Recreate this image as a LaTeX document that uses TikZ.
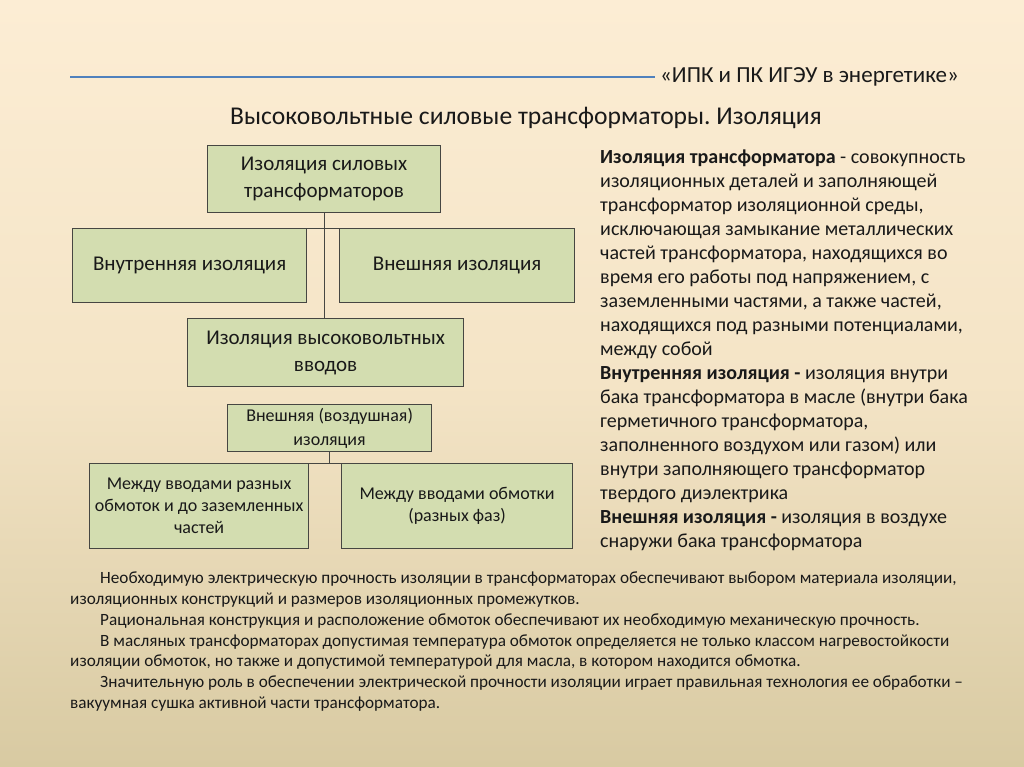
\documentclass[tikz,border=0pt]{standalone}
\usepackage{fontspec}
\setmainfont{Carlito}
\frenchspacing
\definecolor{bgtop}{RGB}{252,237,212}
\definecolor{bgmid}{RGB}{244,228,198}
\definecolor{bgbot}{RGB}{216,202,162}
\definecolor{boxfill}{RGB}{211,221,176}
\definecolor{boxline}{RGB}{70,70,66}
\definecolor{headblue}{RGB}{79,129,189}
\definecolor{txt}{RGB}{25,25,25}
\begin{document}
\begin{tikzpicture}[x=1pt,y=-1pt,
  box/.style={draw=boxline, line width=1.2pt, fill=boxfill, inner sep=0pt, align=center, anchor=north west, text=txt},
  bigbox/.style={box, font=\fontsize{21}{27}\selectfont},
  smallbox/.style={box, font=\fontsize{18}{22}\selectfont},
  conn/.style={draw=boxline, line width=0.8pt},
  para/.style={anchor=north west, align=left, inner sep=0pt, text=txt}]
\useasboundingbox (0,0) rectangle (1024,767);
\shade[top color=bgtop, bottom color=bgbot, middle color=bgmid] (0,0) rectangle (1024,767);
% header
\coordinate (hlA) at (70,77);
\coordinate (hlB) at (655,77);
\draw[headblue, line width=1.6pt] (hlA) -- (hlB);
\node[anchor=west, inner sep=0pt, text=txt, font=\fontsize{23}{26}\selectfont] (head) at (660,77) {«ИПК и ПК ИГЭУ в энергетике»};
\node[inner sep=0pt, text=txt, font=\fontsize{25.6}{30}\selectfont] (title) at (526,118) {Высоковольтные силовые трансформаторы. Изоляция};
% boxes
\node[bigbox, minimum width=233pt, minimum height=67pt] (top) at (207,145) {Изоляция силовых\\трансформаторов};
\node[bigbox, minimum width=234pt, minimum height=74pt] (inner) at (72,228) {Внутренняя изоляция};
\node[bigbox, minimum width=235pt, minimum height=74pt] (outer) at (339,228) {Внешняя изоляция};
\node[bigbox, minimum width=276pt, minimum height=68pt] (hv) at (187,318) {Изоляция высоковольтных\\вводов};
\node[smallbox, font=\fontsize{18}{24}\selectfont, minimum width=204pt, minimum height=47pt] (air) at (227,404) {Внешняя (воздушная)\\изоляция};
\node[smallbox, minimum width=219pt, minimum height=85pt] (lowL) at (89,463) {Между вводами разных\\обмоток и до заземленных\\частей};
\node[smallbox, minimum width=231pt, minimum height=85pt] (lowR) at (341,463) {Между вводами обмотки\\(разных фаз)};
% connectors
\draw[conn] (top.south) -- (top.south |- hv.north);
\draw[conn] (inner.north east) -- (outer.north west);
\draw[conn] (air.south) -- (air.south |- lowL.north);
\draw[conn] (lowL.north east) -- (lowR.north west);
% right text
\node[para, font=\fontsize{20}{24}\selectfont] (def) at (600,150) {%
\textbf{Изоляция трансформатора} - совокупность\\
изоляционных деталей и заполняющей\\
трансформатор изоляционной среды,\\
исключающая замыкание металлических\\
частей трансформатора, находящихся во\\
время его работы под напряжением, с\\
заземленными частями, а также частей,\\
находящихся под разными потенциалами,\\
между собой\\
\textbf{Внутренняя изоляция -} изоляция внутри\\
бака трансформатора в масле (внутри бака\\
герметичного трансформатора,\\
заполненного воздухом или газом) или\\
внутри заполняющего трансформатор\\
твердого диэлектрика\\
\textbf{Внешняя изоляция -} изоляция в воздухе\\
снаружи бака трансформатора};
% bottom text
\node[para, font=\fontsize{17.2}{20.7}\selectfont] (notes) at (70,572) {%
\hspace*{30pt}Необходимую электрическую прочность изоляции в трансформаторах обеспечивают выбором материала изоляции,\\
изоляционных конструкций и размеров изоляционных промежутков.\\
\hspace*{30pt}Рациональная конструкция и расположение обмоток обеспечивают их необходимую механическую прочность.\\
\hspace*{30pt}В масляных трансформаторах допустимая температура обмоток определяется не только классом нагревостойкости\\
изоляции обмоток, но также и допустимой температурой для масла, в котором находится обмотка.\\
\hspace*{30pt}Значительную роль в обеспечении электрической прочности изоляции играет правильная технология ее обработки –\\
вакуумная сушка активной части трансформатора.};
\end{tikzpicture}
\end{document}
